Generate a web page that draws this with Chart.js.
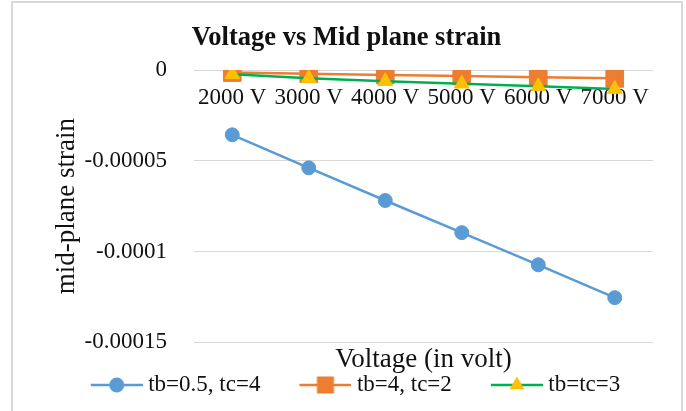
<!DOCTYPE html>
<html>
<head>
<meta charset="utf-8">
<script src="https://cdn.jsdelivr.net/npm/chart.js@4/dist/chart.umd.min.js"></script>
<style>
  html, body { margin: 0; padding: 0; background: #fff; }
  #wrap { position: relative; width: 686px; height: 411px; overflow: hidden; }
  #frame { position: absolute; left: 11px; top: 1px; width: 668px; height: 430px;
           border: 2px solid #d9d9d9; pointer-events: none; }
</style>
</head>
<body>
<div id="wrap">
  <canvas id="chart" width="686" height="411"></canvas>
  <div id="frame"></div>
</div>
<script>
// Valores
const categories = ['2000 V', '3000 V', '4000 V', '5000 V', '6000 V', '7000 V'];
const strainThin = [-0.0000357, -0.0000539, -0.0000719, -0.0000896, -0.0001073, -0.0001254];
const strainThick = [-0.0000014, -0.0000020, -0.0000027, -0.0000033, -0.0000040, -0.0000046];
const strainEqual = [-0.0000024, -0.0000046, -0.0000062, -0.0000076, -0.0000090, -0.0000105];
const seriesNames = ['tb=0.5, tc=4', 'tb=4, tc=2', 'tb=tc=3'];
const yTicks = [0, -0.00005, -0.0001, -0.00015];
const yTickLabels = ['0', '-0.00005', '-0.0001', '-0.00015'];

const SERIF = "'Liberation Serif', 'Times New Roman', serif";
const TEXT = '#111';

// Ícone da legenda: linha com o marcador no meio (deslocada para a direita do canvas)
function makeLegendIcon(lineColor, fill, style) {
    const c = document.createElement('canvas');
    c.width = 76;
    c.height = 26;
    const ctx = c.getContext('2d');
    const cy = 13;
    const mx = 50;
    ctx.strokeStyle = lineColor;
    ctx.lineWidth = 2.5;
    ctx.beginPath();
    ctx.moveTo(24, cy);
    ctx.lineTo(76, cy);
    ctx.stroke();
    ctx.fillStyle = fill;
    ctx.beginPath();
    if (style === 'circle') {
        ctx.arc(mx, cy, 7.5, 0, Math.PI * 2);
    } else if (style === 'rect') {
        ctx.rect(mx - 8.5, cy - 8.5, 17, 17);
    } else {
        ctx.moveTo(mx, cy - 8.5);
        ctx.lineTo(mx + 7.4, cy + 4.3);
        ctx.lineTo(mx - 7.4, cy + 4.3);
        ctx.closePath();
    }
    ctx.fill();
    return c;
}

const legendIcons = [
    makeLegendIcon('#5b9bd5', '#5b9bd5', 'circle'),
    makeLegendIcon('#ed7d31', '#ed7d31', 'rect'),
    makeLegendIcon('#00b050', '#ffc000', 'triangle')
];

new Chart(document.getElementById('chart'), {
    type: 'line',
    data: {
        labels: categories,
        datasets: [
            {
                label: seriesNames[0], data: strainThin, order: 3,
                borderColor: '#5b9bd5', backgroundColor: '#5b9bd5', borderWidth: 2.5,
                pointStyle: 'circle', pointRadius: 7, pointBorderWidth: 1,
                pointBorderColor: '#5b9bd5', pointBackgroundColor: '#5b9bd5'
            },
            {
                label: seriesNames[1], data: strainThick, order: 2,
                borderColor: '#ed7d31', backgroundColor: '#ed7d31', borderWidth: 2.5,
                pointStyle: 'rect', pointRadius: 12.5, pointBorderWidth: 1,
                pointBorderColor: '#ed7d31', pointBackgroundColor: '#ed7d31'
            },
            {
                label: seriesNames[2], data: strainEqual, order: 1,
                borderColor: '#00b050', backgroundColor: '#ffc000', borderWidth: 2.5,
                pointStyle: 'triangle', pointRadius: 8.5, pointBorderWidth: 1,
                pointBorderColor: '#ffc000', pointBackgroundColor: '#ffc000'
            }
        ]
    },
    options: {
        responsive: false,
        animation: false,
        layout: { padding: { left: 40, right: 33, top: 0, bottom: 4.5 } },
        plugins: {
            title: {
                display: true,
                text: 'Voltage vs Mid plane strain',
                color: TEXT,
                font: { family: SERIF, size: 26.5, weight: 'bold', lineHeight: 1.2 },
                padding: { top: 22.1, bottom: 16.1 }
            },
            legend: {
                position: 'bottom',
                labels: {
                    color: TEXT,
                    font: { family: SERIF, size: 23 },
                    usePointStyle: true,
                    pointStyleWidth: 64,
                    padding: 21,
                    generateLabels: function(chart) {
                        const items = Chart.defaults.plugins.legend.labels.generateLabels(chart);
                        items.sort((a, b) => a.datasetIndex - b.datasetIndex);
                        items.forEach(item => { item.pointStyle = legendIcons[item.datasetIndex]; });
                        return items;
                    }
                }
            },
            tooltip: { enabled: false }
        },
        scales: {
            x: {
                type: 'category',
                position: { y: 0 },
                offset: true,
                grid: { display: false, drawTicks: false },
                border: { display: false },
                ticks: {
                    color: TEXT,
                    font: { family: SERIF, size: 23 },
                    padding: 14,
                    maxRotation: 0,
                    autoSkip: false
                }
            },
            x2: {
                type: 'category',
                position: 'bottom',
                labels: categories,
                offset: true,
                grid: { display: false, drawTicks: false },
                border: { display: false },
                ticks: { display: false },
                title: {
                    display: true,
                    text: 'Voltage (in volt)',
                    color: TEXT,
                    font: { family: SERIF, size: 27, lineHeight: 0.02 },
                    padding: { top: 17.46, bottom: -7.8 }
                }
            },
            y: {
                min: -0.00015,
                max: 0,
                afterBuildTicks: function(scale) {
                    scale.ticks = yTicks.map(v => ({ value: v }));
                },
                afterFit: function(scale) {
                    scale.width = 154;
                },
                grid: { color: '#d9d9d9', lineWidth: 1, drawTicks: false },
                border: { display: false },
                ticks: {
                    color: TEXT,
                    font: { family: SERIF, size: 23 },
                    padding: 27,
                    callback: function(value, index) {
                        return yTickLabels[index];
                    }
                },
                title: {
                    display: true,
                    text: 'mid-plane strain',
                    color: TEXT,
                    font: { family: SERIF, size: 27, lineHeight: 1.2 },
                    padding: { top: 10.8, bottom: 0 }
                }
            }
        }
    }
});
</script>
</body>
</html>
